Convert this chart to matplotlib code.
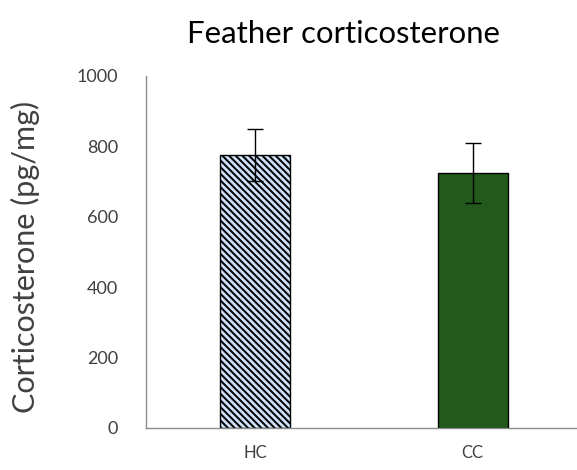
import matplotlib
matplotlib.use("Agg")
import matplotlib.pyplot as plt

categories = ["HC", "CC"]
means = [775, 724]
errors = [74, 85]
yticks = [0, 200, 400, 600, 800, 1000]

plt.rcParams['font.family'] = ['Lato', 'DejaVu Sans']
plt.rcParams['hatch.color'] = '#27467a'
plt.rcParams['hatch.linewidth'] = 1.4

fig = plt.figure(figsize=(5.77, 4.70), dpi=100)
ax = fig.add_axes([0.253, 0.0894, 0.755, 0.749])

x = range(len(categories))
bars = ax.bar(x, means, width=0.32, yerr=errors, capsize=6,
              error_kw=dict(elinewidth=1, capthick=1, ecolor='black'),
              edgecolor='black', linewidth=1, zorder=2)
bars[0].set_facecolor('#cde0f7')
bars[0].set_hatch('\\' * 5)
bars[1].set_facecolor('#215a1a')

ax.set_xlim(-0.5, 1.5)
ax.set_ylim(0, 1000)
ax.set_yticks(yticks)
ax.set_xticks(list(x))
ax.set_xticklabels(categories)
ax.tick_params(axis='both', length=0, colors='#404040')
ax.tick_params(axis='y', labelsize=13, pad=20)
ax.tick_params(axis='x', labelsize=12, pad=12)
for s in ['top', 'right']:
    ax.spines[s].set_visible(False)
for s in ['left', 'bottom']:
    ax.spines[s].set_color('#8c8c8c')
    ax.spines[s].set_linewidth(1)

ax.set_ylabel("Corticosterone (pg/mg)", fontsize=22, color='#404040')
ax.yaxis.set_label_coords(-0.244, 0.485)
fig.text(0.596, 0.928, "Feather corticosterone", fontsize=22.4, ha='center', va='center', color='black')

fig.savefig("out.png", dpi=100)
